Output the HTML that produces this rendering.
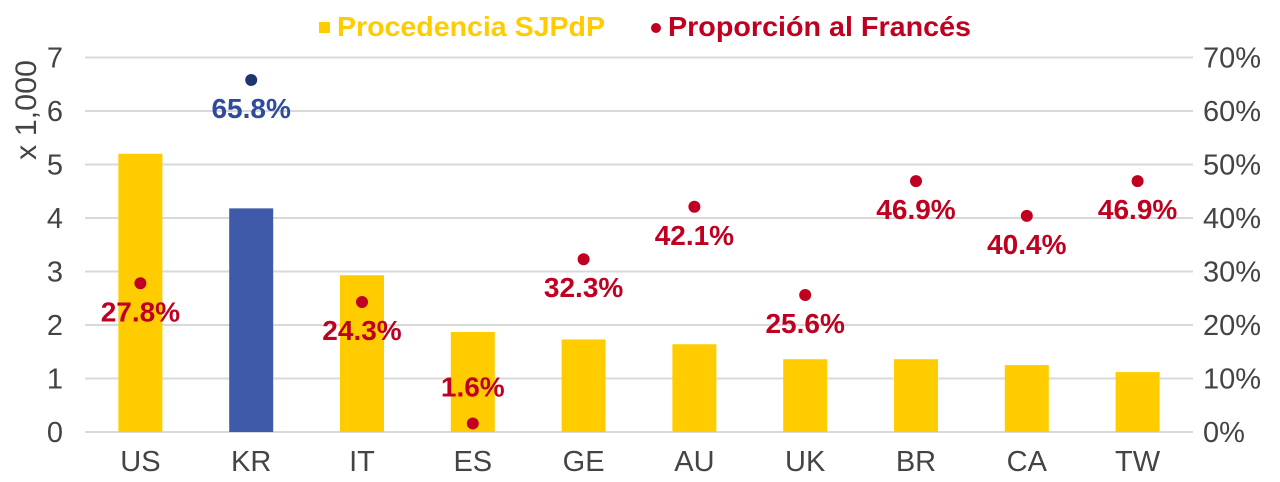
<!DOCTYPE html>
<html><head><meta charset="utf-8"><style>
html,body{margin:0;padding:0;background:#fff;}
svg{display:block;font-family:"Liberation Sans",Arial,sans-serif;}
</style></head><body>
<svg id="chart" width="1280" height="482" viewBox="0 0 1280 482" xmlns="http://www.w3.org/2000/svg">
<g>
<rect x="319" y="22" width="11" height="11" fill="#FFCC00"/>
<text x="337" y="36" font-size="28" font-weight="bold" fill="#FFCC00" textLength="268" lengthAdjust="spacingAndGlyphs">Procedencia SJPdP</text>
<circle cx="656" cy="28" r="5" fill="#C00020"/>
<text x="668" y="36" font-size="28" font-weight="bold" fill="#C00020" textLength="303" lengthAdjust="spacingAndGlyphs">Proporción al Francés</text>
</g>
<text transform="translate(36,110) rotate(-90)" text-anchor="middle" font-size="30" fill="#444" textLength="100" lengthAdjust="spacingAndGlyphs">x 1,000</text>
<g id="grid"></g><g id="bars"></g><g id="dots"></g><g id="labels"></g><g id="axes"></g>
</svg>
<script>
const categories = ["US","KR","IT","ES","GE","AU","UK","BR","CA","TW"];
const arrivals = [5.2,4.18,2.93,1.87,1.73,1.64,1.36,1.36,1.25,1.12];
const proportion = [27.8,65.8,24.3,1.6,32.3,42.1,25.6,46.9,40.4,46.9];
const percentLabels = ["27.8%","65.8%","24.3%","1.6%","32.3%","42.1%","25.6%","46.9%","40.4%","46.9%"];
const leftTicks = [0,1,2,3,4,5,6,7];
const rightTicks = ["0%","10%","20%","30%","40%","50%","60%","70%"];
const highlight = "KR";

const NS="http://www.w3.org/2000/svg";
const L=85,R=1193,T=57.5,B=432;
const band=(R-L)/categories.length;
const x=i=>L+band*(i+0.5);
const yL=v=>B-(v/7)*(B-T);
const yR=p=>B-(p/70)*(B-T);
function mk(tag,attrs,parent,text){const e=document.createElementNS(NS,tag);for(const k in attrs)e.setAttribute(k,attrs[k]);if(text!==undefined)e.textContent=text;document.getElementById(parent).appendChild(e);return e;}

leftTicks.forEach((t,i)=>{
  const g=mk('line',{x1:L,x2:R,y1:yL(t),y2:yL(t),stroke:'#d9d9d9','stroke-width':2},'grid');
  
  
  const a=mk('text',{x:63,y:yL(t)+10,'text-anchor':'end','font-size':29,fill:'#444'},'axes',String(t));
  
  
  const b=mk('text',{x:1203,y:yL(t)+10,'font-size':29,fill:'#444'},'axes',rightTicks[i]);
  
  
});
categories.forEach((c,i)=>{
  const col=c===highlight?'#3F5AA8':'#FFCC00';
  const r=mk('rect',{x:x(i)-22,y:yL(arrivals[i]),width:44,height:B-yL(arrivals[i]),fill:col},'bars');
  
  
  const dc=c===highlight?'#1F3570':'#C00020';
  const d=mk('circle',{cx:x(i),cy:yR(proportion[i]),r:6,fill:dc},'dots');
  
  
  const lc=c===highlight?'#2F4C9C':'#C00020';
  const above=proportion[i]<5;
  const ly=above?yR(proportion[i])-27:yR(proportion[i])+38;
  const t=mk('text',{x:x(i),y:ly,'text-anchor':'middle','font-size':28,'font-weight':'bold',fill:lc},'labels',percentLabels[i]);
  
  
  const xl=mk('text',{x:x(i),y:471,'text-anchor':'middle','font-size':29,fill:'#444'},'axes',c);
  
  
});
</script>
</body></html>
